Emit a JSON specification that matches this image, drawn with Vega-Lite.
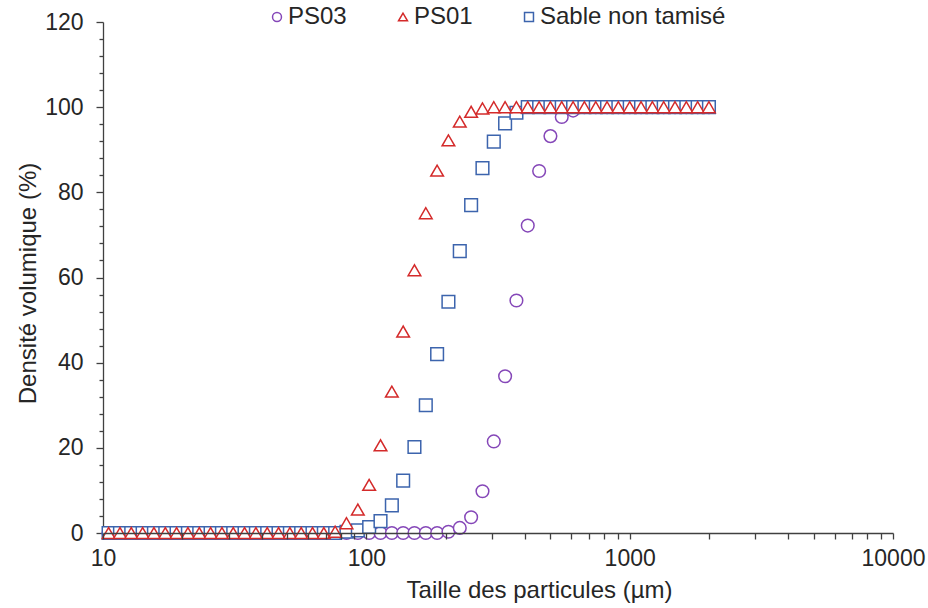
{
  "$schema": "https://vega.github.io/schema/vega-lite/v6.json",
  "autosize": {"type": "none"},
  "width": 790,
  "height": 511,
  "padding": {"left": 103, "top": 22, "right": 35, "bottom": 75},
  "background": "white",
  "config": {
    "font": "Liberation Sans",
    "view": {"stroke": null}
  },
  "data": {"values": [
    {"serie":"PS03","taille":10.5,"densite":0},{"serie":"PS03","taille":11.6,"densite":0},{"serie":"PS03","taille":12.8,"densite":0},{"serie":"PS03","taille":14.14,"densite":0},{"serie":"PS03","taille":15.61,"densite":0},{"serie":"PS03","taille":17.24,"densite":0},{"serie":"PS03","taille":19.03,"densite":0},{"serie":"PS03","taille":21.01,"densite":0},{"serie":"PS03","taille":23.2,"densite":0},{"serie":"PS03","taille":25.62,"densite":0},{"serie":"PS03","taille":28.29,"densite":0},{"serie":"PS03","taille":31.23,"densite":0},{"serie":"PS03","taille":34.48,"densite":0},{"serie":"PS03","taille":38.07,"densite":0},{"serie":"PS03","taille":42.03,"densite":0},{"serie":"PS03","taille":46.41,"densite":0},{"serie":"PS03","taille":51.24,"densite":0},{"serie":"PS03","taille":56.56,"densite":0},{"serie":"PS03","taille":62.46,"densite":0},{"serie":"PS03","taille":68.96,"densite":0},{"serie":"PS03","taille":76.14,"densite":0},{"serie":"PS03","taille":84.07,"densite":0},{"serie":"PS03","taille":92.83,"densite":0},{"serie":"PS03","taille":102.5,"densite":0},{"serie":"PS03","taille":113.2,"densite":0},{"serie":"PS03","taille":125,"densite":0},{"serie":"PS03","taille":138,"densite":0},{"serie":"PS03","taille":152.3,"densite":0},{"serie":"PS03","taille":168.2,"densite":0},{"serie":"PS03","taille":185.7,"densite":0},{"serie":"PS03","taille":205,"densite":0.3},{"serie":"PS03","taille":226.4,"densite":1.2},{"serie":"PS03","taille":250,"densite":3.7},{"serie":"PS03","taille":276.1,"densite":9.8},{"serie":"PS03","taille":304.8,"densite":21.5},{"serie":"PS03","taille":336.5,"densite":36.8},{"serie":"PS03","taille":371.5,"densite":54.6},{"serie":"PS03","taille":410.2,"densite":72.2},{"serie":"PS03","taille":453.1,"densite":85.0},{"serie":"PS03","taille":500.1,"densite":93.2},{"serie":"PS03","taille":552.2,"densite":97.7},{"serie":"PS03","taille":609.8,"densite":99.2},{"serie":"PS03","taille":673.2,"densite":100},{"serie":"PS03","taille":743.4,"densite":100},{"serie":"PS03","taille":820.6,"densite":100},{"serie":"PS03","taille":906,"densite":100},{"serie":"PS03","taille":1000.5,"densite":100},{"serie":"PS03","taille":1104.6,"densite":100},{"serie":"PS03","taille":1219.9,"densite":100},{"serie":"PS03","taille":1346.6,"densite":100},{"serie":"PS03","taille":1486.7,"densite":100},{"serie":"PS03","taille":1641.5,"densite":100},{"serie":"PS03","taille":1812.3,"densite":100},{"serie":"PS03","taille":2000,"densite":100},
    {"serie":"Sable non tamisé","taille":10.5,"densite":0},{"serie":"Sable non tamisé","taille":11.6,"densite":0},{"serie":"Sable non tamisé","taille":12.8,"densite":0},{"serie":"Sable non tamisé","taille":14.14,"densite":0},{"serie":"Sable non tamisé","taille":15.61,"densite":0},{"serie":"Sable non tamisé","taille":17.24,"densite":0},{"serie":"Sable non tamisé","taille":19.03,"densite":0},{"serie":"Sable non tamisé","taille":21.01,"densite":0},{"serie":"Sable non tamisé","taille":23.2,"densite":0},{"serie":"Sable non tamisé","taille":25.62,"densite":0},{"serie":"Sable non tamisé","taille":28.29,"densite":0},{"serie":"Sable non tamisé","taille":31.23,"densite":0},{"serie":"Sable non tamisé","taille":34.48,"densite":0},{"serie":"Sable non tamisé","taille":38.07,"densite":0},{"serie":"Sable non tamisé","taille":42.03,"densite":0},{"serie":"Sable non tamisé","taille":46.41,"densite":0},{"serie":"Sable non tamisé","taille":51.24,"densite":0},{"serie":"Sable non tamisé","taille":56.56,"densite":0},{"serie":"Sable non tamisé","taille":62.46,"densite":0},{"serie":"Sable non tamisé","taille":68.96,"densite":0},{"serie":"Sable non tamisé","taille":76.14,"densite":0},{"serie":"Sable non tamisé","taille":84.07,"densite":0.3},{"serie":"Sable non tamisé","taille":92.83,"densite":0.6},{"serie":"Sable non tamisé","taille":102.5,"densite":1.4},{"serie":"Sable non tamisé","taille":113.2,"densite":2.8},{"serie":"Sable non tamisé","taille":125,"densite":6.5},{"serie":"Sable non tamisé","taille":138,"densite":12.3},{"serie":"Sable non tamisé","taille":152.3,"densite":20.2},{"serie":"Sable non tamisé","taille":168.2,"densite":30.0},{"serie":"Sable non tamisé","taille":185.7,"densite":42.0},{"serie":"Sable non tamisé","taille":205,"densite":54.3},{"serie":"Sable non tamisé","taille":226.4,"densite":66.2},{"serie":"Sable non tamisé","taille":250,"densite":77.0},{"serie":"Sable non tamisé","taille":276.1,"densite":85.7},{"serie":"Sable non tamisé","taille":304.8,"densite":91.9},{"serie":"Sable non tamisé","taille":336.5,"densite":96.2},{"serie":"Sable non tamisé","taille":371.5,"densite":98.7},{"serie":"Sable non tamisé","taille":410.2,"densite":100},{"serie":"Sable non tamisé","taille":453.1,"densite":100},{"serie":"Sable non tamisé","taille":500.1,"densite":100},{"serie":"Sable non tamisé","taille":552.2,"densite":100},{"serie":"Sable non tamisé","taille":609.8,"densite":100},{"serie":"Sable non tamisé","taille":673.2,"densite":100},{"serie":"Sable non tamisé","taille":743.4,"densite":100},{"serie":"Sable non tamisé","taille":820.6,"densite":100},{"serie":"Sable non tamisé","taille":906,"densite":100},{"serie":"Sable non tamisé","taille":1000.5,"densite":100},{"serie":"Sable non tamisé","taille":1104.6,"densite":100},{"serie":"Sable non tamisé","taille":1219.9,"densite":100},{"serie":"Sable non tamisé","taille":1346.6,"densite":100},{"serie":"Sable non tamisé","taille":1486.7,"densite":100},{"serie":"Sable non tamisé","taille":1641.5,"densite":100},{"serie":"Sable non tamisé","taille":1812.3,"densite":100},{"serie":"Sable non tamisé","taille":2000,"densite":100},
    {"serie":"PS01","taille":10.5,"densite":0},{"serie":"PS01","taille":11.6,"densite":0},{"serie":"PS01","taille":12.8,"densite":0},{"serie":"PS01","taille":14.14,"densite":0},{"serie":"PS01","taille":15.61,"densite":0},{"serie":"PS01","taille":17.24,"densite":0},{"serie":"PS01","taille":19.03,"densite":0},{"serie":"PS01","taille":21.01,"densite":0},{"serie":"PS01","taille":23.2,"densite":0},{"serie":"PS01","taille":25.62,"densite":0},{"serie":"PS01","taille":28.29,"densite":0},{"serie":"PS01","taille":31.23,"densite":0},{"serie":"PS01","taille":34.48,"densite":0},{"serie":"PS01","taille":38.07,"densite":0},{"serie":"PS01","taille":42.03,"densite":0},{"serie":"PS01","taille":46.41,"densite":0},{"serie":"PS01","taille":51.24,"densite":0},{"serie":"PS01","taille":56.56,"densite":0},{"serie":"PS01","taille":62.46,"densite":0},{"serie":"PS01","taille":68.96,"densite":0},{"serie":"PS01","taille":76.14,"densite":0.3},{"serie":"PS01","taille":84.07,"densite":2.3},{"serie":"PS01","taille":92.83,"densite":5.5},{"serie":"PS01","taille":102.5,"densite":11.3},{"serie":"PS01","taille":113.2,"densite":20.6},{"serie":"PS01","taille":125,"densite":33.2},{"serie":"PS01","taille":138,"densite":47.3},{"serie":"PS01","taille":152.3,"densite":61.7},{"serie":"PS01","taille":168.2,"densite":75.1},{"serie":"PS01","taille":185.7,"densite":85.1},{"serie":"PS01","taille":205,"densite":92.2},{"serie":"PS01","taille":226.4,"densite":96.6},{"serie":"PS01","taille":250,"densite":98.9},{"serie":"PS01","taille":276.1,"densite":99.7},{"serie":"PS01","taille":304.8,"densite":100},{"serie":"PS01","taille":336.5,"densite":100},{"serie":"PS01","taille":371.5,"densite":100},{"serie":"PS01","taille":410.2,"densite":100},{"serie":"PS01","taille":453.1,"densite":100},{"serie":"PS01","taille":500.1,"densite":100},{"serie":"PS01","taille":552.2,"densite":100},{"serie":"PS01","taille":609.8,"densite":100},{"serie":"PS01","taille":673.2,"densite":100},{"serie":"PS01","taille":743.4,"densite":100},{"serie":"PS01","taille":820.6,"densite":100},{"serie":"PS01","taille":906,"densite":100},{"serie":"PS01","taille":1000.5,"densite":100},{"serie":"PS01","taille":1104.6,"densite":100},{"serie":"PS01","taille":1219.9,"densite":100},{"serie":"PS01","taille":1346.6,"densite":100},{"serie":"PS01","taille":1486.7,"densite":100},{"serie":"PS01","taille":1641.5,"densite":100},{"serie":"PS01","taille":1812.3,"densite":100},{"serie":"PS01","taille":2000,"densite":100}
  ]},
  "mark": {"type": "point", "filled": true, "fill": "white", "size": 160, "strokeWidth": 1.5, "opacity": 1},
  "encoding": {
    "x": {
      "field": "taille", "type": "quantitative",
      "scale": {"type": "log", "domain": [10, 10000], "nice": false},
      "axis": {
        "title": "Taille des particules (µm)",
        "values": [10,20,30,40,50,60,70,80,90,100,200,300,400,500,600,700,800,900,1000,2000,3000,4000,5000,6000,7000,8000,9000,10000],
        "format": "d",
        "labelExpr": "(datum.value==10||datum.value==100||datum.value==1000||datum.value==10000) ? datum.label : ''",
        "labelOverlap": false, "labelFlush": false,
        "labelFontSize": 23, "labelColor": "#262626", "labelPadding": 8,
        "titleFontSize": 24, "titleFontWeight": "normal", "titleColor": "#262626",
        "titleX": 436, "titleY": 57, "titleBaseline": "middle",
        "domainColor": "#404040", "domainWidth": 1.3,
        "tickColor": "#404040", "tickWidth": 1.3, "tickSize": 6,
        "grid": false, "zindex": 1,
        "encode": {"ticks": {"update": {"y": [{"test": "datum.value==10||datum.value==100||datum.value==1000||datum.value==10000", "value": -6}, {"value": 0}]}}}
      }
    },
    "y": {
      "field": "densite", "type": "quantitative",
      "scale": {"domain": [0, 120], "nice": false},
      "axis": {
        "title": "Densité volumique (%)",
        "values": [0,4,8,12,16,20,24,28,32,36,40,44,48,52,56,60,64,68,72,76,80,84,88,92,96,100,104,108,112,116,120],
        "labelExpr": "datum.value % 20 == 0 ? datum.label : ''",
        "labelOverlap": false, "labelFlush": false,
        "labelFontSize": 23, "labelColor": "#262626", "labelPadding": 13,
        "titleFontSize": 24, "titleFontWeight": "normal", "titleColor": "#262626",
        "titleX": -75, "titleY": 261, "titleBaseline": "middle",
        "domainColor": "#404040", "domainWidth": 1.3,
        "tickColor": "#404040", "tickWidth": 1.3,
        "tickSize": {"condition": {"test": "datum.value % 20 == 0", "value": 7}, "value": 4},
        "grid": false
      }
    },
    "shape": {
      "field": "serie", "type": "nominal",
      "scale": {"domain": ["PS03", "PS01", "Sable non tamisé"], "range": ["circle", "triangle-up", "square"]},
      "legend": {
        "title": null, "orient": "none", "direction": "horizontal",
        "legendX": 162, "legendY": -17,
        "labelFontSize": 24, "labelColor": "#262626", "labelFont": "Liberation Sans", "labelLimit": 0,
        "symbolSize": 80, "symbolStrokeWidth": 1.5, "symbolFillColor": "white",
        "labelOffset": -1, "columnPadding": 44
      }
    },
    "stroke": {
      "field": "serie", "type": "nominal",
      "scale": {"domain": ["PS03", "PS01", "Sable non tamisé"], "range": ["#8547b8", "#d42a2a", "#3c64ad"]},
      "legend": {
        "title": null, "orient": "none", "direction": "horizontal",
        "legendX": 162, "legendY": -17,
        "labelFontSize": 24, "labelColor": "#262626", "labelFont": "Liberation Sans", "labelLimit": 0,
        "symbolSize": 80, "symbolStrokeWidth": 1.5, "symbolFillColor": "white",
        "labelOffset": -1, "columnPadding": 44
      }
    }
  }
}
